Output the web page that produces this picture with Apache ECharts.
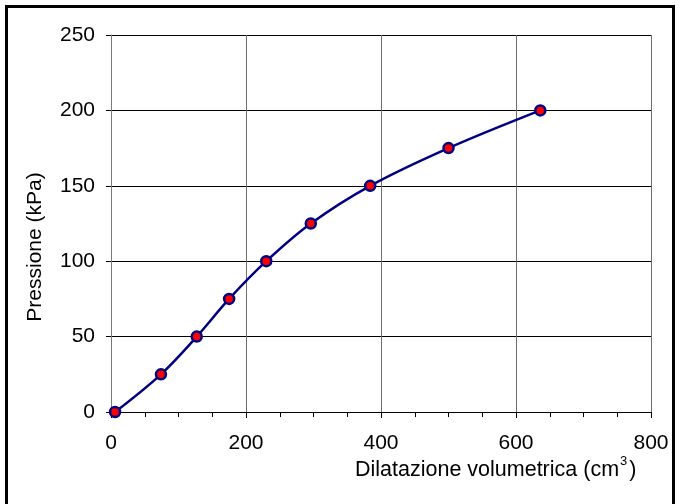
<!DOCTYPE html>
<html>
<head>
<meta charset="utf-8">
<script src="https://cdn.jsdelivr.net/npm/echarts@6/dist/echarts.min.js"></script>
<style>
html,body{margin:0;padding:0;background:#fff;}
#c{width:680px;height:504px;}
</style>
</head>
<body>
<div id="c"></div>
<script>
const dilatazione = [6, 74, 127, 175, 230, 296, 384, 500, 636];
const pressione = [0, 25, 50, 75, 100, 125, 150, 175, 200];
const xTitle = 'Dilatazione volumetrica (cm';
const yTitle = 'Pressione (kPa)';

const points = dilatazione.map((x, i) => [x, pressione[i]]);
const chart = echarts.init(document.getElementById('c'), null, {renderer: 'canvas'});
const font = 'Liberation Sans, Arial, sans-serif';
chart.setOption({
  animation: false,
  backgroundColor: '#fff',
  grid: {left: 111, right: 29, top: 35, bottom: 92, containLabel: false},
  xAxis: {
    type: 'value', min: 0, max: 800, interval: 200,
    axisLine: {show: true, lineStyle: {color: '#000', width: 1}},
    axisTick: {show: true, inside: false, length: 6, lineStyle: {color: '#000'}},
    minorTick: {show: true, splitNumber: 4, length: 5, lineStyle: {color: '#000'}},
    splitLine: {show: true, lineStyle: {color: '#6e6e6e', width: 1}},
    axisLabel: {color: '#000', fontSize: 21, fontFamily: font, margin: 21}
  },
  yAxis: {
    type: 'value', min: 0, max: 250, interval: 50,
    axisLine: {show: true, lineStyle: {color: '#7a7a7a', width: 1}},
    axisTick: {show: true, inside: false, length: 5, lineStyle: {color: '#000'}},
    splitLine: {show: true, lineStyle: {color: '#000', width: 1}},
    axisLabel: {color: '#000', fontSize: 21, fontFamily: font, margin: 16}
  },
  graphic: [
    {type: 'line', shape: {x1: 6.5, y1: 6.5, x2: 6.5, y2: 504}, style: {stroke: '#000', lineWidth: 3}},
    {type: 'line', shape: {x1: 5, y1: 6.5, x2: 675, y2: 6.5}, style: {stroke: '#000', lineWidth: 3}},
    {type: 'line', shape: {x1: 673.5, y1: 5, x2: 673.5, y2: 504}, style: {stroke: '#000', lineWidth: 3}},
    {type: 'text', left: 355, top: 455, style: {
      text: '{a|' + xTitle + '}{s|3}{a|)}',
      rich: {
        a: {fontSize: 21.5, fontFamily: font, fill: '#000', verticalAlign: 'bottom', lineHeight: 26},
        s: {fontSize: 13, fontFamily: font, fill: '#000', verticalAlign: 'top', lineHeight: 26, padding: [0, 2, 12, 1]}
      }
    }},
    {type: 'text', x: 35, y: 247, rotation: Math.PI / 2, style: {
      text: yTitle, fontSize: 21, fontFamily: font, fill: '#000', align: 'center', verticalAlign: 'middle'
    }}
  ],
  series: [{
    type: 'line', data: points, smooth: 0.35,
    lineStyle: {color: '#000080', width: 2.5},
    symbol: 'circle', symbolSize: 10,
    itemStyle: {color: '#ff0000', borderColor: '#000080', borderWidth: 2.5},
    z: 5
  }]
});
</script>
</body>
</html>
